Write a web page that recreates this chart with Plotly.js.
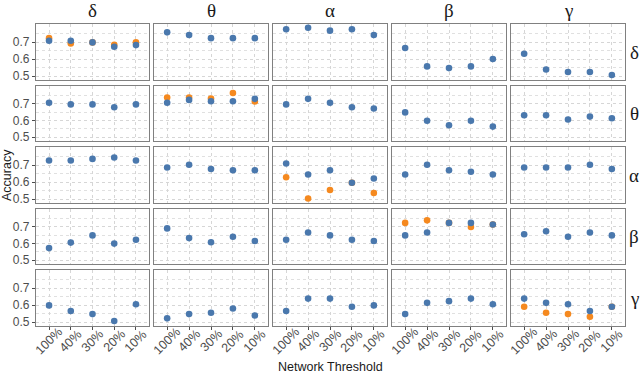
<!DOCTYPE html>
<html>
<head>
<meta charset="utf-8">
<script src="https://cdn.plot.ly/plotly-3.0.1.min.js"></script>
<style>html,body{margin:0;padding:0;background:#fff}#chart{width:640px;height:392px}</style>
</head>
<body>
<div id="chart"></div>
<script>
const thresholds = ['100%', '40%', '30%', '20%', '10%'];
const bands = ['δ', 'θ', 'α', 'β', 'γ'];

// Blue series: one array per row band (right strip); inner arrays follow column bands (top strip)
const blueRowDelta = [
  [0.708, 0.708, 0.698, 0.672, 0.682],
  [0.757, 0.741, 0.723, 0.723, 0.723],
  [0.775, 0.784, 0.767, 0.775, 0.741],
  [0.665, 0.557, 0.547, 0.557, 0.600],
  [0.631, 0.539, 0.524, 0.524, 0.506]
];
const blueRowTheta = [
  [0.706, 0.696, 0.696, 0.679, 0.696],
  [0.706, 0.723, 0.715, 0.715, 0.729],
  [0.696, 0.729, 0.706, 0.679, 0.671],
  [0.648, 0.598, 0.571, 0.598, 0.563],
  [0.631, 0.631, 0.606, 0.623, 0.613]
];
const blueRowAlpha = [
  [0.727, 0.727, 0.736, 0.744, 0.727],
  [0.686, 0.702, 0.677, 0.669, 0.669],
  [0.709, 0.644, 0.669, 0.596, 0.621],
  [0.644, 0.702, 0.669, 0.661, 0.644],
  [0.686, 0.686, 0.686, 0.702, 0.677]
];
const blueRowBeta = [
  [0.572, 0.605, 0.648, 0.599, 0.622],
  [0.690, 0.632, 0.607, 0.640, 0.615],
  [0.622, 0.665, 0.648, 0.622, 0.615],
  [0.648, 0.665, 0.723, 0.723, 0.713],
  [0.655, 0.673, 0.640, 0.665, 0.648]
];
const blueRowGamma = [
  [0.598, 0.565, 0.547, 0.506, 0.605],
  [0.522, 0.547, 0.555, 0.580, 0.539],
  [0.565, 0.638, 0.638, 0.590, 0.598],
  [0.547, 0.613, 0.623, 0.638, 0.605],
  [0.638, 0.613, 0.605, 0.565, 0.590]
];
// Orange series: only on the diagonal panels
const orangeDelta = [0.723, 0.692, 0.698, 0.684, 0.698];
const orangeTheta = [0.737, 0.737, 0.731, 0.764, 0.713];
const orangeAlpha = [0.628, 0.503, 0.553, 0.596, 0.536];
const orangeBeta  = [0.723, 0.738, 0.723, 0.698, 0.713];
const orangeGamma = [0.590, 0.555, 0.547, 0.531, 0.590];

const blueRows = [blueRowDelta, blueRowTheta, blueRowAlpha, blueRowBeta, blueRowGamma];
const orangeDiag = [orangeDelta, orangeTheta, orangeAlpha, orangeBeta, orangeGamma];

const W = 640, H = 392;
const colPx = [[36, 149], [154, 268], [273, 387], [392, 506], [511, 625]];
const rowPx = [[24, 80], [86, 141], [147, 203], [209, 264], [270, 326]];
const BLUE = '#4A78AD', ORANGE = '#F5891F';
const MS = 6.6;

const traces = [];
const layout = {
  width: W, height: H,
  margin: {l: 0, r: 0, t: 0, b: 0},
  paper_bgcolor: '#fff', plot_bgcolor: '#fff',
  showlegend: false,
  font: {family: 'Liberation Sans, Arial, sans-serif', size: 12, color: '#4d4d4d'},
  annotations: []
};

for (let r = 0; r < 5; r++) {
  for (let c = 0; c < 5; c++) {
    const k = r * 5 + c + 1;
    const xa = 'x' + (k === 1 ? '' : k), ya = 'y' + (k === 1 ? '' : k);
    if (r === c) {
      traces.push({x: thresholds, y: orangeDiag[r], xaxis: xa, yaxis: ya, type: 'scatter', mode: 'markers',
        marker: {color: ORANGE, size: MS}, hoverinfo: 'skip'});
    }
    traces.push({x: thresholds, y: blueRows[r][c], xaxis: xa, yaxis: ya, type: 'scatter', mode: 'markers',
      marker: {color: BLUE, size: MS}, hoverinfo: 'skip'});
    const bottom = r === 4, left = c === 0;
    layout['xaxis' + (k === 1 ? '' : k)] = {
      domain: [colPx[c][0] / W, colPx[c][1] / W],
      anchor: ya, type: 'category', range: [-0.6, 4.6],
      showgrid: true, gridcolor: '#d6d6d6', griddash: 'dot', gridwidth: 1,
      showline: true, mirror: true, linecolor: '#808080', linewidth: 1.2,
      zeroline: false,
      showticklabels: false, ticks: bottom ? 'outside' : '', ticklen: 3, tickcolor: '#4d4d4d'
    };
    layout['yaxis' + (k === 1 ? '' : k)] = {
      domain: [1 - rowPx[r][1] / H, 1 - rowPx[r][0] / H],
      anchor: xa, range: [0.477, 0.806],
      tickvals: [0.5, 0.6, 0.7], ticktext: ['0.5', '0.6', '0.7'],
      showgrid: true, gridcolor: '#d6d6d6', griddash: 'dot', gridwidth: 1,
      minor: {tickvals: [0.55, 0.65, 0.75], showgrid: true, gridcolor: '#e0e0e0', griddash: 'dot', gridwidth: 1, ticks: ''},
      showline: true, mirror: true, linecolor: '#808080', linewidth: 1.2,
      zeroline: false,
      showticklabels: left, ticks: left ? 'outside' : '', ticklen: 3, tickcolor: '#4d4d4d',
      tickfont: {size: 12, color: '#4d4d4d'}
    };
    // rotated category labels, centred on each tick (bottom row only)
    if (bottom) {
      thresholds.forEach(t => {
        layout.annotations.push({text: t, xref: xa, yref: 'paper', x: t, y: 1 - 341 / H,
          xanchor: 'center', yanchor: 'middle', textangle: -45, showarrow: false,
          font: {size: 12.5, color: '#4d4d4d'}});
      });
    }
  }
}

// Strip labels
for (let c = 0; c < 5; c++) {
  layout.annotations.push({text: bands[c], xref: 'paper', yref: 'paper',
    x: (colPx[c][0] + colPx[c][1]) / 2 / W, y: 1 - 11 / H, xanchor: 'center', yanchor: 'middle',
    showarrow: false, font: {family: 'Liberation Serif, DejaVu Serif, serif', size: 19, color: '#1a1a1a'}});
}
for (let r = 0; r < 5; r++) {
  layout.annotations.push({text: bands[r], xref: 'paper', yref: 'paper',
    x: 634 / W, y: 1 - (rowPx[r][0] + rowPx[r][1]) / 2 / H, xanchor: 'center', yanchor: 'middle',
    showarrow: false, font: {family: 'Liberation Serif, DejaVu Serif, serif', size: 19, color: '#1a1a1a'}});
}
// Axis titles
layout.annotations.push({text: 'Network Threshold', xref: 'paper', yref: 'paper',
  x: 330 / W, y: 1 - 367 / H, xanchor: 'center', yanchor: 'middle', showarrow: false,
  font: {size: 12.5, color: '#1a1a1a'}});
layout.annotations.push({text: 'Accuracy', xref: 'paper', yref: 'paper',
  x: 7 / W, y: 1 - 175 / H, xanchor: 'center', yanchor: 'middle', showarrow: false, textangle: -90,
  font: {size: 12.5, color: '#1a1a1a'}});

Plotly.newPlot('chart', traces, layout, {staticPlot: true, displayModeBar: false});
</script>
</body>
</html>
